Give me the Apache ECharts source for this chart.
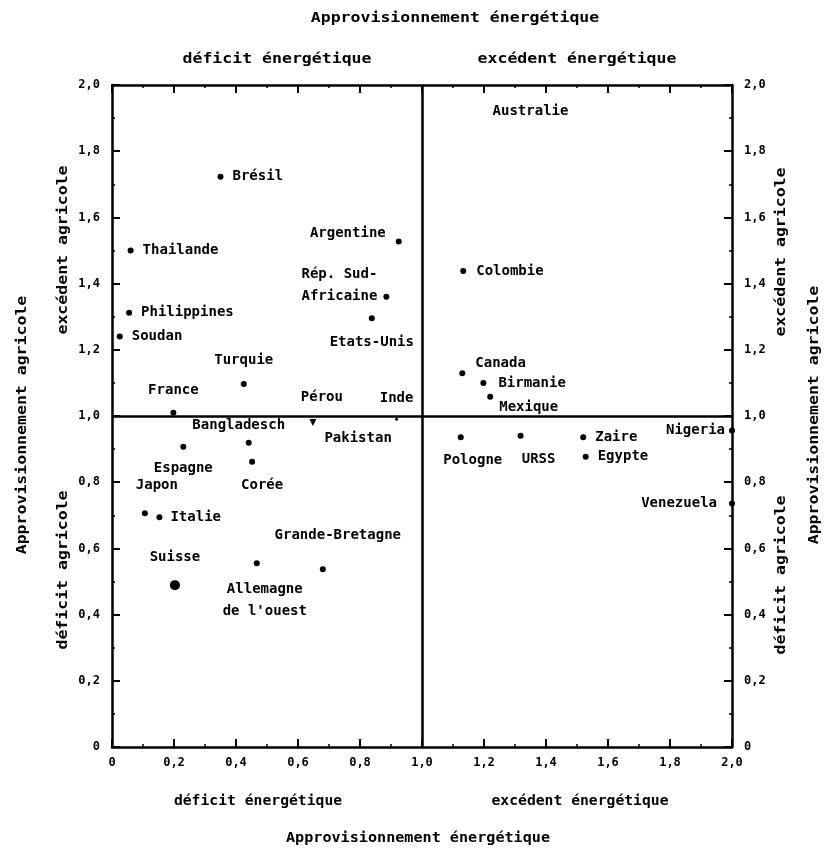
<!DOCTYPE html>
<html>
<head>
<meta charset="utf-8">
<script src="https://cdn.jsdelivr.net/npm/echarts@6/dist/echarts.min.js"></script>
<style>
  html, body { margin: 0; padding: 0; background: #fff; }
  #chart { width: 829px; height: 851px; }
</style>
</head>
<body>
<div id="chart"></div>
<script>
// Countries and their energy / agricultural supply ratios (1,0 = self-sufficient)
const countries = [
  'Brésil', 'Thailande', 'Philippines', 'Soudan', 'Turquie', 'France',
  'Argentine', 'Rép. Sud-\nAfricaine', 'Etats-Unis', 'Pérou', 'Inde', 'Pakistan',
  'Australie', 'Colombie', 'Canada', 'Birmanie', 'Mexique',
  'Bangladesch', 'Espagne', 'Corée', 'Japon', 'Italie', 'Suisse',
  'Allemagne\nde l\'ouest', 'Grande-Bretagne',
  'Pologne', 'URSS', 'Zaire', 'Egypte', 'Nigeria', 'Venezuela'
];
const energySupply = [
  0.35, 0.06, 0.055, 0.025, 0.425, 0.198,
  0.925, 0.885, 0.838, 0.648, 0.918, 0.648,
  1.35, 1.133, 1.13, 1.198, 1.22,
  0.441, 0.23, 0.452, 0.106, 0.153, 0.203,
  0.467, 0.68,
  1.125, 1.318, 1.52, 1.528, 2.0, 2.0
];
const agriSupply = [
  1.723, 1.50, 1.312, 1.24, 1.097, 1.01,
  1.527, 1.36, 1.295, 0.98, 0.99, 0.98,
  1.92, 1.438, 1.129, 1.10, 1.058,
  0.919, 0.907, 0.862, 0.706, 0.694, 0.489,
  0.555, 0.537,
  0.936, 0.94, 0.936, 0.877, 0.956, 0.736
];
const tickValues = [0, 0.2, 0.4, 0.6, 0.8, 1.0, 1.2, 1.4, 1.6, 1.8, 2.0];

// Label placement and marker size for each country
const placement = {
  'Brésil': { position: 'right', distance: 9 },
  'Thailande': { position: 'right', distance: 9 },
  'Philippines': { position: 'right', distance: 9 },
  'Soudan': { position: 'right', distance: 9 },
  'Turquie': { position: 'top', distance: 10 },
  'France': { position: 'top', distance: 8 },
  'Argentine': { position: 'left', distance: 10, offset: [0, -8] },
  'Rép. Sud-\nAfricaine': { position: 'left', distance: 6, offset: [0, -11] },
  'Etats-Unis': { position: 'bottom', distance: 10 },
  'Pérou': { position: 'top', distance: 14, offset: [9, 0], size: 0 },
  'Inde': { position: 'top', distance: 8, size: 3 },
  'Pakistan': { position: 'right', distance: 8, offset: [0, 16], symbol: 'triangle', rotate: 180, size: 7 },
  'Australie': { position: 'inside', size: 0 },
  'Colombie': { position: 'right', distance: 10 },
  'Canada': { position: 'right', distance: 10, offset: [0, -10] },
  'Birmanie': { position: 'right', distance: 12 },
  'Mexique': { position: 'right', distance: 6, offset: [0, 11] },
  'Bangladesch': { position: 'top', distance: 3, offset: [-10, 0] },
  'Espagne': { position: 'bottom', distance: 8 },
  'Corée': { position: 'bottom', distance: 10, offset: [10, 0] },
  'Japon': { position: 'top', distance: 14, offset: [12, 0] },
  'Italie': { position: 'right', distance: 8 },
  'Suisse': { position: 'top', distance: 12, size: 10 },
  'Allemagne\nde l\'ouest': { position: 'bottom', distance: 12, offset: [8, 0] },
  'Grande-Bretagne': { position: 'top', distance: 20, offset: [15, 0] },
  'Pologne': { position: 'bottom', distance: 9, offset: [12, 0] },
  'URSS': { position: 'bottom', distance: 9, offset: [18, 0] },
  'Zaire': { position: 'right', distance: 9 },
  'Egypte': { position: 'right', distance: 9 },
  'Nigeria': { position: 'left', distance: 4 },
  'Venezuela': { position: 'left', distance: 12 }
};

const FONT = '"DejaVu Sans Mono", "Liberation Mono", monospace';

const points = countries.map((name, i) => {
  const p = placement[name] || {};
  return {
    name: name,
    value: [energySupply[i], agriSupply[i]],
    symbol: p.symbol || 'circle',
    symbolRotate: p.rotate || 0,
    symbolSize: p.size === undefined ? 6 : p.size,
    label: {
      position: p.position || 'right',
      distance: p.distance === undefined ? 8 : p.distance,
      offset: p.offset || [0, 0]
    }
  };
});

const fmtTick = v => (v === 0 ? '0' : v.toFixed(1).replace('.', ','));

const axisLine = { show: true, onZero: false, lineStyle: { color: '#000', width: 2.5 } };
const axisTick = { show: true, inside: true, length: 8, lineStyle: { color: '#000', width: 2 } };
const minorTick = { show: true, splitNumber: 2, length: 3, lineStyle: { color: '#000', width: 1.5 } };
const tickLabel = { color: '#000', fontFamily: FONT, fontWeight: 'bold', fontSize: 12, formatter: fmtTick };

function valueAxis(position, showLabel, margin) {
  return {
    type: 'value', min: 0, max: 2, interval: 0.2, position: position,
    axisLine: axisLine, axisTick: axisTick, minorTick: minorTick,
    splitLine: { show: false },
    axisLabel: Object.assign({ show: showLabel, margin: margin }, tickLabel)
  };
}

// Axis captions: slightly widened monospace, like typewritten lettering
function titleText(text, x, y, rotation, stretch) {
  return {
    type: 'text', x: x, y: y, rotation: rotation || 0, scaleX: stretch || 1.18, silent: true,
    style: {
      text: text, fill: '#000', font: 'bold 14px ' + FONT,
      textAlign: 'center', textVerticalAlign: 'middle'
    }
  };
}

const chart = echarts.init(document.getElementById('chart'), null, { renderer: 'canvas' });
chart.setOption({
  backgroundColor: '#fff',
  animation: false,
  grid: { left: 112, right: 97, top: 85, bottom: 104 },
  xAxis: [valueAxis('bottom', true, 10), valueAxis('top', false, 8)],
  yAxis: [valueAxis('left', true, 12), valueAxis('right', true, 12)],
  graphic: [
    titleText('Approvisionnement énergétique', 455, 18),
    titleText('déficit énergétique', 277, 59),
    titleText('excédent énergétique', 577, 59),
    titleText('déficit énergétique', 258, 801, 0, 1.05),
    titleText('excédent énergétique', 580, 801, 0, 1.05),
    titleText('Approvisionnement énergétique', 418, 838, 0, 1.08),
    titleText('Approvisionnement agricole', 22, 425, Math.PI / 2),
    titleText('excédent agricole', 63, 250, Math.PI / 2),
    titleText('déficit agricole', 63, 570, Math.PI / 2),
    titleText('excédent agricole', 781, 252, Math.PI / 2),
    titleText('Approvisionnement agricole', 814, 415, Math.PI / 2),
    titleText('déficit agricole', 781, 575, Math.PI / 2)
  ],
  series: [{
    type: 'scatter',
    xAxisIndex: 0, yAxisIndex: 0,
    clip: false,
    data: points,
    itemStyle: { color: '#000', opacity: 1 },
    label: {
      show: true, formatter: '{b}', color: '#000',
      fontFamily: FONT, fontWeight: 'bold', fontSize: 14, lineHeight: 22
    },
    markLine: {
      silent: true, symbol: 'none',
      label: { show: false },
      lineStyle: { color: '#000', width: 2.5, type: 'solid', opacity: 1 },
      data: [{ xAxis: 1 }, { yAxis: 1 }]
    }
  }]
});
</script>
</body>
</html>
